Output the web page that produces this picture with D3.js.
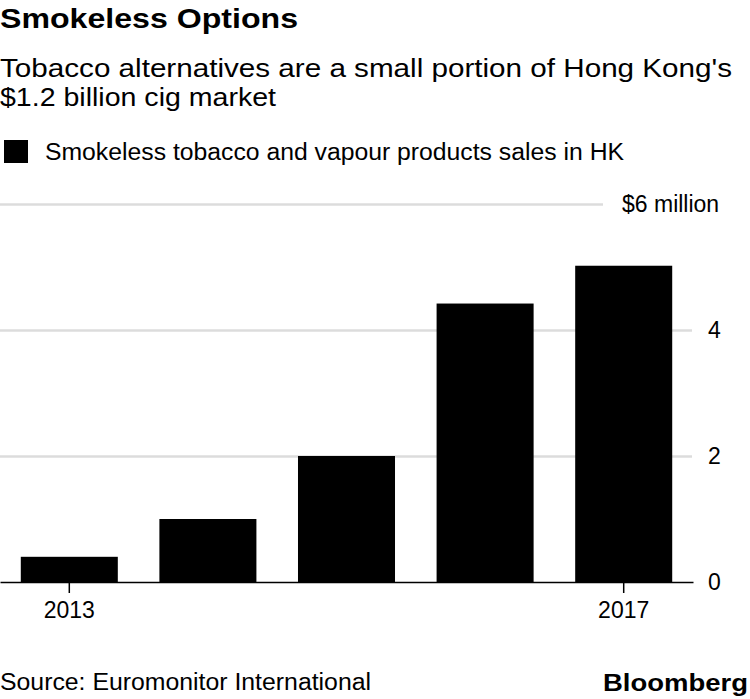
<!DOCTYPE html>
<html>
<head>
<meta charset="utf-8">
<script src="https://cdn.jsdelivr.net/npm/d3@7"></script>
<style>
  body { margin: 0; background: #fff; }
  svg text { font-family: "Liberation Sans", Arial, Helvetica, sans-serif; fill: #000; }
</style>
</head>
<body>
<div id="chart"></div>
<script>
// data
var years = ["2013", "2014", "2015", "2016", "2017"];
var sales = [0.4, 1.0, 2.0, 4.42, 5.02]; // $ million
var yTicks = [0, 2, 4, 6];
var xTicks = ["2013", "2017"];

var W = 750, H = 699;
var svg = d3.select('#chart').append('svg')
  .attr('width', W)
  .attr('height', H);

var x = d3.scaleBand().domain(years).range([0, 693])
  .paddingInner(0.3).paddingOuter(0.15);
var y = d3.scaleLinear().domain([0, 6]).range([582, 204]);

// titles
svg.append('text').attr('x', 0).attr('y', 28)
  .style('font-size', '28px').style('font-weight', 'bold')
  .attr('textLength', 298).attr('lengthAdjust', 'spacingAndGlyphs')
  .text('Smokeless Options');
svg.append('text').attr('x', 0).attr('y', 77)
  .style('font-size', '25px')
  .attr('textLength', 732).attr('lengthAdjust', 'spacingAndGlyphs')
  .text("Tobacco alternatives are a small portion of Hong Kong's");
svg.append('text').attr('x', 0).attr('y', 106)
  .style('font-size', '25px')
  .attr('textLength', 276).attr('lengthAdjust', 'spacingAndGlyphs')
  .text('$1.2 billion cig market');

// legend
svg.append('rect').attr('x', 4).attr('y', 140).attr('width', 24).attr('height', 23)
  .style('fill', '#000');
svg.append('text').attr('x', 45).attr('y', 160)
  .style('font-size', '23px')
  .attr('textLength', 579).attr('lengthAdjust', 'spacingAndGlyphs')
  .text('Smokeless tobacco and vapour products sales in HK');

// y grid + labels
var yAxis = svg.append('g')
  .call(d3.axisRight(y).tickValues(yTicks).tickSize(692).tickPadding(16)
    .tickFormat(d => d == 6 ? '$6 million' : d));
yAxis.select('.domain').remove();
yAxis.selectAll('.tick line')
  .style('stroke', '#dcdcdc').style('stroke-width', 2.5)
  .attr('x2', d => d == 6 ? 603 : 692)
  .style('opacity', d => d == 0 ? 0 : 1);
yAxis.selectAll('.tick text')
  .style('font-size', '23px').style('font-family', null)
  .attr('x', d => d == 6 ? 622 : 708);

// bars
svg.selectAll('rect.bar').data(years).join('rect')
  .attr('class', 'bar')
  .attr('x', d => x(d))
  .attr('width', x.bandwidth())
  .attr('y', (d, i) => y(sales[i]))
  .attr('height', (d, i) => y(0) - y(sales[i]))
  .style('fill', '#000');

// x axis
var xAxis = svg.append('g').attr('transform', 'translate(0,' + y(0) + ')')
  .call(d3.axisBottom(x).tickValues(xTicks).tickSize(11).tickSizeOuter(0).tickPadding(9));
xAxis.select('.domain').style('stroke', '#000').style('stroke-width', 1.5);
xAxis.selectAll('.tick line').style('stroke', '#000').style('stroke-width', 1.5);
xAxis.selectAll('.tick text').style('font-size', '23px').style('font-family', null);

// footer
svg.append('text').attr('x', 0).attr('y', 690)
  .style('font-size', '23px')
  .attr('textLength', 371).attr('lengthAdjust', 'spacingAndGlyphs')
  .text('Source: Euromonitor International');
svg.append('text').attr('x', 603).attr('y', 691)
  .style('font-size', '24px').style('font-weight', 'bold')
  .attr('textLength', 145).attr('lengthAdjust', 'spacingAndGlyphs')
  .text('Bloomberg');
</script>
</body>
</html>
